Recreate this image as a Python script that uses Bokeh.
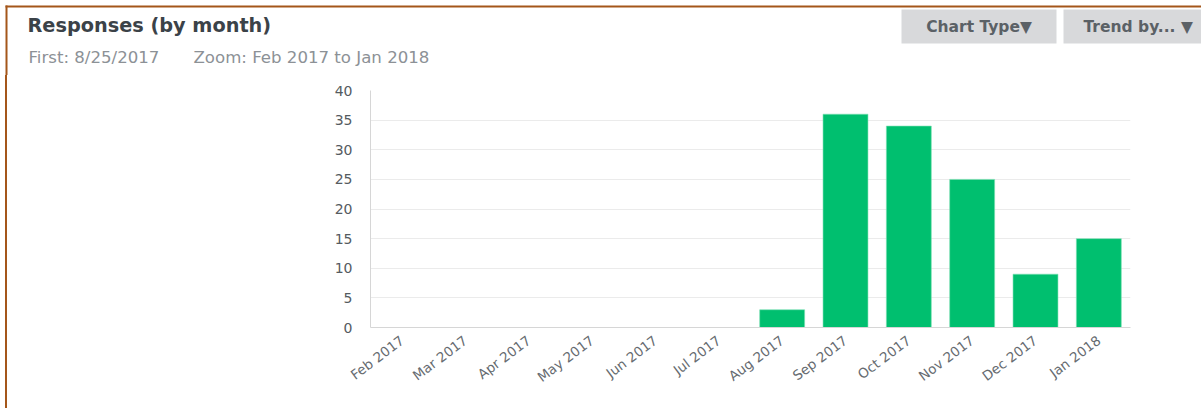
import math
from bokeh.plotting import figure
from bokeh.layouts import column, row
from bokeh.models import FixedTicker, Range1d, Div, Spacer
from bokeh.core.properties import value
from bokeh.embed import file_html
from bokeh.resources import INLINE

months = ["Feb 2017", "Mar 2017", "Apr 2017", "May 2017", "Jun 2017", "Jul 2017",
          "Aug 2017", "Sep 2017", "Oct 2017", "Nov 2017", "Dec 2017", "Jan 2018"]
responses = [0, 0, 0, 0, 0, 0, 3, 36, 34, 25, 9, 15]
y_ticks = [0, 5, 10, 15, 20, 25, 30, 35, 40]
grid_ticks = [5, 10, 15, 20, 25, 30, 35]

title_text = "Responses (by month)"
first_text = "First: 8/25/2017"
zoom_text = "Zoom: Feb 2017 to Jan 2018"
button_texts = ["Chart Type\u25BC", "Trend by... \u25BC"]

FONT = "DejaVu Sans"
BROWN = "#a4561a"
W, H = 1201, 408
HEAD = 75          # header height
LX, LW = 5, 2      # left border position / width
STRIP = LX + LW
FL, FT, FR, FB = 370, 90, 1130, 327   # chart frame edges on the page


def blank(width, height):
    f = figure(width=width, height=height, x_range=Range1d(0, width), y_range=Range1d(height, 0),
               output_backend="svg", toolbar_location=None, x_axis_location=None, y_axis_location=None,
               min_border=0)
    f.grid.visible = False
    f.outline_line_color = None
    f.background_fill_color = "white"
    f.border_fill_color = "white"
    return f


# ---------- header ----------
head = blank(W, HEAD)
head.quad(left=[LX], right=[W], top=[5], bottom=[7], fill_color=BROWN, line_color=None)
head.quad(left=[LX], right=[LX + LW], top=[5], bottom=[HEAD], fill_color=BROWN, line_color=None)
head.quad(left=[901, 1063], right=[1056, W], top=[9, 9], bottom=[43, 43],
          fill_color="#d8d9db", line_color=None)
head.text(x=[27], y=[25], text=[title_text], text_font=value(FONT), text_font_size="19.3px",
          text_font_style="bold", text_color="#3b4248", text_baseline="middle", text_align="left")
head.text(x=[28, 193], y=[57, 57], text=[first_text, zoom_text], text_font=value(FONT),
          text_font_size="16.6px", text_color="#8c9196", text_baseline="middle", text_align="left")
head.text(x=[978.5], y=[26], text=[button_texts[0]], text_font=value(FONT), text_font_size="15.5px",
          text_font_style="bold", text_color="#5b6166", text_baseline="middle", text_align="center")
head.text(x=[1083], y=[26], text=[button_texts[1]], text_font=value(FONT), text_font_size="15.5px",
          text_font_style="bold", text_color="#5b6166", text_baseline="middle", text_align="left")

# ---------- left border ----------
gap = Spacer(width=LX, height=H - HEAD, margin=0)
line = Div(text="", width=LW, height=H - HEAD, margin=0, styles={"background-color": BROWN})

# ---------- chart ----------
CW, CH = W - STRIP, H - HEAD
p = figure(x_range=months, y_range=Range1d(0, 40), width=CW, height=CH,
           output_backend="svg", toolbar_location=None,
           min_border_left=FL - STRIP, min_border_right=W - FR,
           min_border_top=FT - HEAD, min_border_bottom=H - FB)
p.outline_line_color = None
p.background_fill_color = "white"
p.border_fill_color = "white"

p.vbar(x=months, top=responses, width=0.71, fill_color="#00bf6f", line_color="#7fe0b5", line_width=0.6)

p.xgrid.grid_line_color = None
p.ygrid.ticker = FixedTicker(ticks=grid_ticks)
p.ygrid.grid_line_color = "#ebebeb"

p.yaxis.ticker = FixedTicker(ticks=y_ticks)
p.yaxis.axis_line_color = "#d6d6d6"
p.yaxis.major_tick_line_color = None
p.yaxis.minor_tick_line_color = None
p.yaxis.major_label_standoff = 12
p.yaxis.major_label_text_font = FONT
p.yaxis.major_label_text_font_size = "14px"
p.yaxis.major_label_text_color = "#555b61"

p.xaxis.axis_line_color = "#d6d6d6"
p.xaxis.major_tick_line_color = None
p.xaxis.minor_tick_line_color = None
p.xaxis.major_label_orientation = math.radians(37)
p.xaxis.major_label_standoff = 5
p.xaxis.major_label_text_font = FONT
p.xaxis.major_label_text_font_size = "13.5px"
p.xaxis.major_label_text_color = "#666b70"

layout = column(head, row(gap, line, p, spacing=0), spacing=0)

open("out.html", "w").write(file_html(layout, INLINE))
